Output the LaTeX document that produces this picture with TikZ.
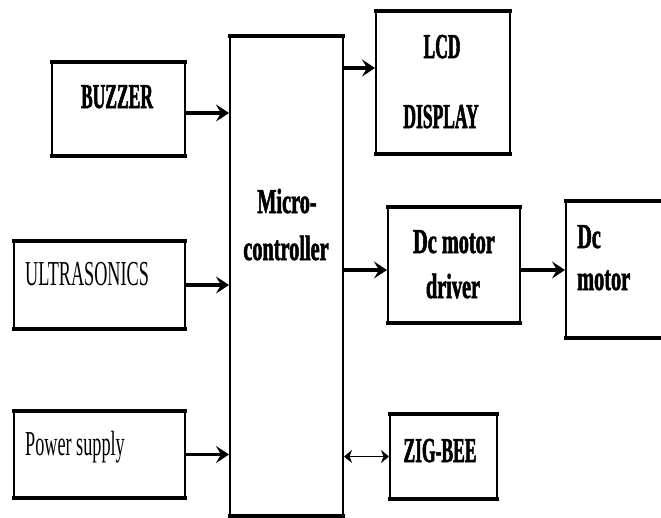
\documentclass[tikz,border=0pt]{standalone}
\usepackage{fontspec}
\setmainfont{Liberation Serif}
\newfontfamily\capfont[FakeStretch=0.5,BoldFeatures={FakeBold=1.5}]{Liberation Serif}
\newfontfamily\lowfont[FakeStretch=0.58,BoldFeatures={FakeBold=1.5}]{Liberation Serif}
\newfontfamily\plainfont[FakeStretch=0.52]{Liberation Serif}
\usetikzlibrary{arrows.meta,positioning}

\begin{document}
\begin{tikzpicture}[x=1pt,y=-1pt,
    blk/.style={draw,line width=2pt,inner sep=0pt},
    lbl/.style={inner sep=0pt,font=\fontsize{35}{40}\selectfont},
    flow/.style={line width=3.5pt,-{Stealth[length=13pt,width=17pt,inset=5pt]}}]
    \useasboundingbox (0,0) rectangle (661,517);
    % Blocks
    \node[blk,minimum width=133pt,minimum height=92pt]  (buzzer) at (118.5,109) {};
    \node[blk,minimum width=113pt,minimum height=478pt] (micro)  at (286.5,276) {};
    \node[blk,minimum width=134pt,minimum height=141pt] (lcd)    at (443,82.5) {};
    \node[blk,minimum width=171pt,minimum height=86pt]  (ultra)  at (99.5,285) {};
    \node[blk,minimum width=171pt,minimum height=85pt]  (power)  at (99.5,454.5) {};
    \node[blk,minimum width=132pt,minimum height=114pt] (driver) at (454,265) {};
    \node[blk,minimum width=98pt,minimum height=135pt]  (motor)  at (615,269.5) {};
    \node[blk,minimum width=107pt,minimum height=83pt]  (zigbee) at (443.5,456.5) {};
    % Heavy top and bottom edges
    \foreach \n in {buzzer,micro,lcd,ultra,power,driver,motor,zigbee} {
        \draw[line width=4.5pt,shorten <=-1pt,shorten >=-1pt] (\n.north west) -- (\n.north east);
        \draw[line width=4.5pt,shorten <=-1pt,shorten >=-1pt] (\n.south west) -- (\n.south east);
    }
    % Labels
    \node[lbl,anchor=base] (buzzertxt) at (117,108) {\capfont\bfseries BUZZER};
    \node[lbl,anchor=base] (lcdtxt) at (442,58) {\capfont\bfseries LCD};
    \node[lbl,anchor=base] (disptxt) at (441,128) {\capfont\bfseries DISPLAY};
    \node[lbl,anchor=base] (microtxt) at (287,213) {\lowfont\bfseries Micro-};
    \node[lbl,anchor=base] (ctrltxt) at (286,260) {\lowfont\bfseries controller};
    \node[lbl,anchor=base west] (ultratxt) at (25,285) {\plainfont ULTRASONICS};
    \node[lbl,anchor=base west] (powertxt) at (25,455) {\plainfont Power supply};
    \node[lbl,anchor=base] (drvtxt) at (454,253) {\lowfont\bfseries Dc motor};
    \node[lbl,anchor=base] (drvtxtb) at (453,298) {\lowfont\bfseries driver};
    \node[lbl,anchor=base west] (motortxt) at (577,248) {\lowfont\bfseries Dc};
    \node[lbl,anchor=base west] (motortxtb) at (577,290) {\lowfont\bfseries motor};
    \node[lbl,anchor=base] (zigtxt) at (440,462) {\capfont\bfseries ZIG-BEE};
    % Connectors
    \coordinate (buzout) at (185,113);
    \coordinate (lcdin) at (376,68);
    \coordinate (drvin) at (388,270);
    \draw[flow] (buzout) -- (buzout -| micro.west);
    \draw[flow] (lcdin -| micro.east) -- (lcd.west |- lcdin);
    \draw[flow] (ultra.east) -- (ultra.east -| micro.west);
    \draw[flow] (power.east) -- (power.east -| micro.west);
    \draw[flow] (drvin -| micro.east) -- (driver.west |- drvin);
    \draw[flow] (driver.east |- drvin) -- (motor.west |- drvin);
    \draw[line width=1.6pt,{Stealth[length=8pt,width=13pt,inset=2.5pt]}-{Stealth[length=8pt,width=13pt,inset=2.5pt]}] (zigbee.west -| micro.east) -- (zigbee.west);
\end{tikzpicture}
\end{document}
